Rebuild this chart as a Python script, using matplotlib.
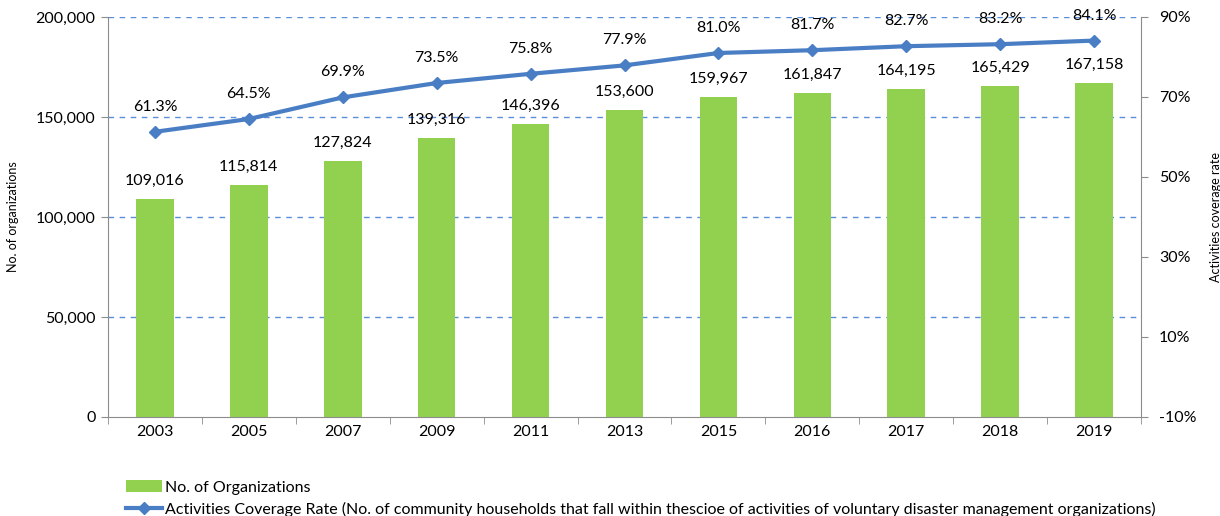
import matplotlib.pyplot as plt
import numpy as np

years = ['2003', '2005', '2007', '2009', '2011', '2013', '2015', '2016', '2017', '2018', '2019']
organizations = [109016, 115814, 127824, 139316, 146396, 153600, 159967, 161847, 164195, 165429, 167158]
coverage_rate = [61.3, 64.5, 69.9, 73.5, 75.8, 77.9, 81.0, 81.7, 82.7, 83.2, 84.1]

plt.rcParams['font.family'] = ['Lato', 'DejaVu Sans']

bar_color = '#92D050'
line_color = '#4A7EC4'
axis_color = '#8C8C8C'
fs = 11.5

fig = plt.figure(figsize=(12.2, 5.16), dpi=100)
ax1 = fig.add_axes([108 / 1220, 1 - 417 / 516, 1033 / 1220, 400 / 516])

x = np.arange(len(years))
ax1.bar(x, organizations, width=0.4, color=bar_color, zorder=2, label='No. of Organizations')
for xi, v in zip(x, organizations):
    ax1.text(xi, v + 5500, f'{v:,}', ha='center', va='bottom', fontsize=fs)

ax1.set_xlim(-0.5, len(years) - 0.5)
ax1.set_ylim(0, 200000)
ax1.set_yticks(np.arange(0, 200001, 50000))
ax1.set_yticklabels([f'{v:,}' for v in np.arange(0, 200001, 50000)], fontsize=fs)
ax1.set_xticks(x)
ax1.set_xticklabels(years, fontsize=fs)
ax1.set_xticks(np.arange(-0.5, len(years), 1), minor=True)
ax1.tick_params(axis='x', which='major', length=0, pad=6)
ax1.tick_params(axis='x', which='minor', length=5, color=axis_color)
ax1.tick_params(axis='y', length=5, color=axis_color, pad=4)
for yv in [50000, 100000, 150000, 200000]:
    ax1.axhline(yv, color='#5A8EDB', linestyle=(0, (4, 4)), linewidth=1, zorder=1)
ax1.set_ylabel('No. of organizations', fontsize=9, labelpad=12)
for side in ['top', 'right']:
    ax1.spines[side].set_visible(False)
for side in ['left', 'bottom']:
    ax1.spines[side].set_color(axis_color)

ax2 = ax1.twinx()
ax2.plot(x, coverage_rate, color=line_color, linewidth=3, marker='D', markersize=6,
         zorder=3, label='Activities Coverage Rate (No. of community households that fall within thescioe of activities of voluntary disaster management organizations)')
for xi, v in zip(x, coverage_rate):
    ax2.text(xi, v + 4.5, f'{v:.1f}%', ha='center', va='bottom', fontsize=fs)
ax2.set_ylim(-10, 90)
ax2.set_yticks(np.arange(-10, 91, 20))
ax2.set_yticklabels([f'{v}%' for v in np.arange(-10, 91, 20)], fontsize=fs)
ax2.tick_params(axis='y', length=5, color=axis_color, pad=8)
ax2.set_ylabel('Activities coverage rate', fontsize=9, labelpad=10)
for side in ['top', 'left', 'bottom']:
    ax2.spines[side].set_visible(False)
ax2.spines['right'].set_color(axis_color)

h1, l1 = ax1.get_legend_handles_labels()
h2, l2 = ax2.get_legend_handles_labels()
fig.legend(h1 + h2, l1 + l2, loc='upper left', bbox_to_anchor=(120 / 1220, 1 - 474 / 516),
           frameon=False, fontsize=fs, handlelength=2.2, handletextpad=0.2,
           labelspacing=0.45, borderaxespad=0)

fig.savefig('out.png', dpi=100)
